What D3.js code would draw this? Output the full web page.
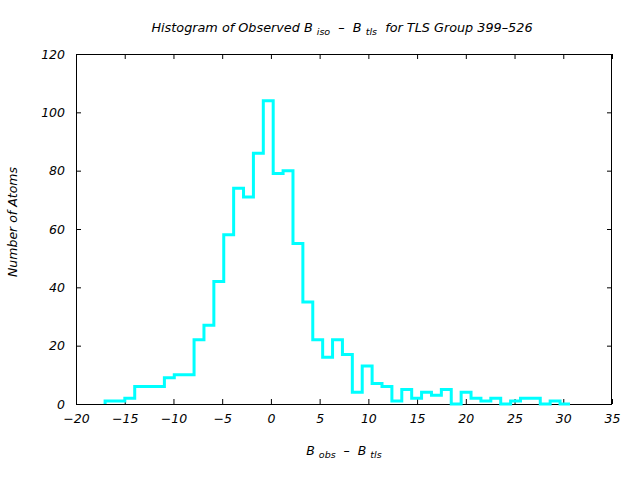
<!DOCTYPE html>
<html>
<head>
<meta charset="utf-8">
<script src="https://cdn.jsdelivr.net/npm/d3@7"></script>
<style>
  html, body { margin: 0; padding: 0; background: #fff; }
  text { font-family: "DejaVu Sans", sans-serif; font-style: italic; fill: #000; white-space: pre; }
</style>
</head>
<body>
<svg id="chart" width="640" height="480"></svg>
<script>
// Bin centres (B_obs - B_tls) and counts per bin
const binCenters = [-16.51, -15.50, -14.48, -13.47, -12.45, -11.44, -10.42, -9.41, -8.39, -7.38,
  -6.36, -5.35, -4.33, -3.32, -2.30, -1.29, -0.27, 0.74, 1.76, 2.77,
  3.79, 4.80, 5.82, 6.83, 7.85, 8.86, 9.88, 10.89, 11.91, 12.92,
  13.94, 14.95, 15.97, 16.98, 18.00, 19.01, 20.03, 21.04, 22.06, 23.07,
  24.09, 25.10, 26.12, 27.13, 28.15, 29.16, 30.18];
const counts = [1, 1, 2, 6, 6, 6, 9, 10, 10, 22,
  27, 42, 58, 74, 71, 86, 104, 79, 80, 55,
  35, 22, 16, 22, 17, 4, 13, 7, 6, 1,
  5, 2, 4, 3, 5, 0, 4, 2, 1, 2,
  0, 1, 2, 2, 0, 1, 0];
const xTicks = [-20, -15, -10, -5, 0, 5, 10, 15, 20, 25, 30, 35];
const yTicks = [0, 20, 40, 60, 80, 100, 120];

const svg = d3.select("#chart");
const L = 76, R = 612, T = 54, B = 404;
const x = d3.scaleLinear().domain([-20, 35]).range([L, R]);
const y = d3.scaleLinear().domain([0, 120]).range([B, T]);

// Axes (ticks inward, mirrored)
const gx = svg.append("g").attr("transform", `translate(0,${B})`)
  .call(d3.axisBottom(x).tickValues(xTicks).tickSizeInner(-5).tickSizeOuter(0).tickPadding(10)
    .tickFormat(d => d3.format("d")(d).replace("-", "\u2212")));
const gy = svg.append("g").attr("transform", `translate(${L},0)`)
  .call(d3.axisLeft(y).tickValues(yTicks).tickSizeInner(-5).tickSizeOuter(0).tickPadding(11));
const gxt = svg.append("g").attr("transform", `translate(0,${T})`)
  .call(d3.axisTop(x).tickValues(xTicks).tickSizeInner(-5).tickSizeOuter(0).tickFormat(""));
const gyr = svg.append("g").attr("transform", `translate(${R},0)`)
  .call(d3.axisRight(y).tickValues(yTicks).tickSizeInner(-5).tickSizeOuter(0).tickFormat(""));
[gx, gy, gxt, gyr].forEach(g => {
  g.select(".domain").remove();
  g.selectAll("line").attr("stroke", "#000");
  g.selectAll("text").attr("font-family", null).attr("font-size", 12.5).style("font-style", "italic");
});
gx.selectAll("text").attr("dy", "0.71em");

// Frame
svg.append("rect").attr("x", L + 0.5).attr("y", T + 0.5)
  .attr("width", R - L - 1).attr("height", B - T)
  .attr("fill", "none").attr("stroke", "#000").attr("stroke-width", 1);

// Step outline (histeps)
const edges = binCenters.map((c, i) => i === 0 ? c - (binCenters[1] - c) / 2 : (binCenters[i - 1] + c) / 2);
const n = binCenters.length;
edges.push(binCenters[n - 1] + (binCenters[n - 1] - binCenters[n - 2]) / 2);
const pts = [[edges[0], 0]];
counts.forEach((v, i) => pts.push([edges[i + 1], v]));
pts.push([edges[n], 0]);
svg.append("path")
  .attr("d", d3.line().x(d => x(d[0])).y(d => y(d[1])).curve(d3.curveStepBefore)(pts))
  .attr("fill", "none").attr("stroke", "#00ffff").attr("stroke-width", 3);

// Title
const title = svg.append("text").attr("x", 342).attr("y", 32).attr("text-anchor", "middle").attr("font-size", 12.8);
title.append("tspan").text("Histogram of Observed B ");
title.append("tspan").attr("font-size", 9.5).attr("dy", 3).text("iso");
title.append("tspan").attr("dy", -3).text("  \u2013  B ");
title.append("tspan").attr("font-size", 9.5).attr("dy", 3).text("tls");
title.append("tspan").attr("dy", -3).text("  for TLS Group 399\u2013526");

// X label
const xl = svg.append("text").attr("x", 344).attr("y", 455).attr("text-anchor", "middle").attr("font-size", 12.5);
xl.append("tspan").text("B ");
xl.append("tspan").attr("font-size", 9.5).attr("dy", 3).text("obs");
xl.append("tspan").attr("dy", -3).text("  \u2013  B ");
xl.append("tspan").attr("font-size", 9.5).attr("dy", 3).text("tls");

// Y label
svg.append("text").attr("transform", "translate(17,222) rotate(-90)")
  .attr("text-anchor", "middle").attr("font-size", 12.5).text("Number of Atoms");
</script>
</body>
</html>
